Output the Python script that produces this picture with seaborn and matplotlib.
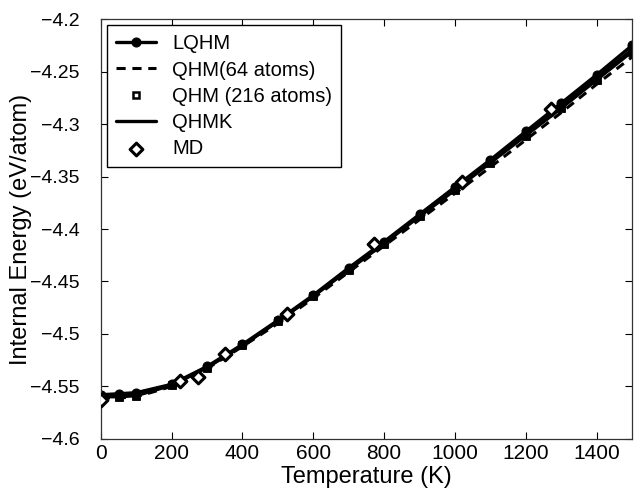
import matplotlib
matplotlib.use("Agg")
import matplotlib.pyplot as plt
import seaborn as sns
import numpy as np
import pandas as pd
from matplotlib.ticker import FuncFormatter

T = [0, 50, 100, 200, 300, 400, 500, 600, 700, 800, 900, 1000, 1100, 1200, 1300, 1400, 1500]
lqhm = [-4.558, -4.557, -4.556, -4.548, -4.531, -4.510, -4.487, -4.463, -4.437, -4.412, -4.386,
        -4.360, -4.334, -4.307, -4.280, -4.253, -4.225]
qhm64 = [-4.561, -4.561, -4.560, -4.550, -4.533, -4.512, -4.490, -4.466, -4.441, -4.416, -4.391,
         -4.366, -4.341, -4.315, -4.289, -4.262, -4.236]
qhm216 = [-4.560, -4.560, -4.559, -4.549, -4.532, -4.511, -4.488, -4.464, -4.439, -4.414, -4.388,
          -4.363, -4.337, -4.311, -4.285, -4.258, -4.231]
qhmk = [-4.559, -4.558, -4.557, -4.549, -4.532, -4.511, -4.488, -4.464, -4.438, -4.413, -4.387,
        -4.361, -4.336, -4.309, -4.283, -4.256, -4.229]
T_md = [0, 225, 275, 350, 525, 770, 1020, 1270]
md = [-4.563, -4.545, -4.541, -4.519, -4.481, -4.414, -4.355, -4.286]

sns.set_style("ticks")
plt.rcParams['font.family'] = ['Liberation Sans', 'DejaVu Sans']
plt.rcParams['text.color'] = 'black'
plt.rcParams['axes.labelcolor'] = 'black'
plt.rcParams['xtick.color'] = 'black'
plt.rcParams['ytick.color'] = 'black'

fig = plt.figure(figsize=(6.34, 4.92), dpi=100)
ax = fig.add_axes([0.159, 0.108, 0.838, 0.853])

df = pd.DataFrame({"T": T, "LQHM": lqhm, "QHM64": qhm64, "QHM216": qhm216, "QHMK": qhmk})
dmd = pd.DataFrame({"T": T_md, "MD": md})

sns.lineplot(data=df, x="T", y="LQHM", ax=ax, color="black", lw=2.4, marker="o", ms=6.5,
             markeredgecolor="black", label="LQHM")
sns.lineplot(data=df, x="T", y="QHM64", ax=ax, color="black", lw=2.2, linestyle=(0, (3, 2.2)),
             label="QHM(64 atoms)")
ax.plot(df["T"], df["QHM216"], color="black", lw=2.2, marker="s", ms=4.5, mfc="white",
        mec="black", mew=1.8, linestyle="none", label="QHM (216 atoms)")
ax.plot(df["T"], df["QHM216"], color="black", lw=2.2, marker="s", ms=5,
        mec="black", mew=1.8, linestyle="-")
sns.lineplot(data=df, x="T", y="QHMK", ax=ax, color="black", lw=2.4, label="QHMK")
sns.scatterplot(data=dmd, x="T", y="MD", ax=ax, marker="D", s=42, facecolor="white",
                edgecolor="black", linewidth=2.2, label="MD", zorder=5)

ax.set_xlim(0, 1500)
ax.set_ylim(-4.6, -4.2)
ax.set_xticks(np.arange(0, 1401, 200))
ax.set_yticks(np.round(np.arange(-4.6, -4.19, 0.05), 2))
ax.yaxis.set_major_formatter(FuncFormatter(lambda v, p: ("%g" % round(v, 2)).replace("-", "\u2212")))
ax.tick_params(direction="in", top=True, right=True, length=5, width=0.8, labelsize=15,
               colors="black")
ax.tick_params(axis="y", pad=15, labelsize=14)
ax.tick_params(axis="x", pad=4)
for s in ax.spines.values():
    s.set_visible(True)
    s.set_linewidth(0.9)
    s.set_color("#333333")

ax.set_xlabel("Temperature (K)", fontsize=17)
ax.set_ylabel("Internal Energy (eV/atom)", fontsize=17)
ax.xaxis.set_label_coords(0.5, -0.065)
ax.yaxis.set_label_coords(-0.13, 0.5)

leg = ax.legend(loc="upper left", fontsize=14.5, frameon=True, fancybox=False, framealpha=1,
                edgecolor="black", borderpad=0.45, labelspacing=0.36, handlelength=2.0,
                handletextpad=0.8, borderaxespad=0.3)
leg.get_frame().set_linewidth(1.0)

fig.savefig("out.png", dpi=100)
